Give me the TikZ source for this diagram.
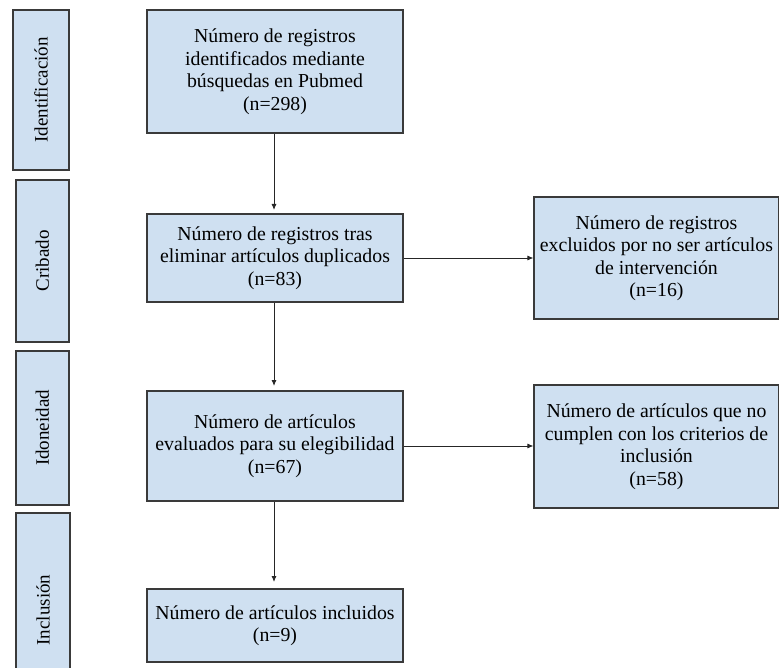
\documentclass[tikz,border=0pt]{standalone}
\usepackage{fontspec}
\setmainfont{Liberation Serif}
\usetikzlibrary{arrows.meta}
\definecolor{boxfill}{HTML}{CFE0F1}
\definecolor{boxline}{HTML}{3A3A3A}
\tikzset{
  flowbox/.style={draw=boxline, line width=1.1pt, fill=boxfill, align=center, inner sep=0pt,
    font=\rmfamily\fontsize{19.8}{22.5}\selectfont},
  phasebox/.style={draw=boxline, line width=1.1pt, fill=boxfill, inner sep=0pt},
  phaselabel/.style={rotate=90, font=\rmfamily\fontsize{19}{21}\selectfont},
  link/.style={draw=black!85, line width=0.9pt, -{Latex[length=6pt,width=5pt]}}
}
\begin{document}
\begin{tikzpicture}[x=1pt,y=-1pt]
\useasboundingbox (0,0) rectangle (779,668);
\clip (0,0) rectangle (779,668);
% phase boxes
\draw[phasebox] (13,10) rectangle (69,170);
\node[phaselabel] (pid) at (41,90) {Identificación};
\draw[phasebox] (16,180) rectangle (69,342);
\node[phaselabel] (pcr) at (42.5,261) {Cribado};
\draw[phasebox] (16,351) rectangle (69,505);
\node[phaselabel] (pido) at (42.5,428) {Idoneidad};
\draw[phasebox] (16,513) rectangle (70,680);
\node[phaselabel] (pinc) at (43,610) {Inclusión};
% main boxes
\node[flowbox, minimum width=256pt, minimum height=123pt] (b1) at (275,71.5)
  {Número de registros\\identificados mediante\\búsquedas en Pubmed\\(n=298)};
\node[flowbox, minimum width=256pt, minimum height=88pt] (b2) at (275,258)
  {Número de registros tras\\eliminar artículos duplicados\\(n=83)};
\node[flowbox, minimum width=256pt, minimum height=110pt] (b3) at (275,446)
  {Número de artículos\\evaluados para su elegibilidad\\(n=67)};
\node[flowbox, minimum width=256pt, minimum height=73pt] (b4) at (275,625.5)
  {Número de artículos incluidos\\(n=9)};
\node[flowbox, minimum width=245pt, minimum height=122pt] (e1) at (656.5,258)
  {Número de registros\\excluidos por no ser artículos\\de intervención\\(n=16)};
\node[flowbox, minimum width=245pt, minimum height=123pt] (e2) at (656.5,446.5)
  {Número de artículos que no\\cumplen con los criterios de\\inclusión\\(n=58)};
% connectors
\coordinate (t2) at (274,210);
\coordinate (t3) at (274,386);
\coordinate (t4) at (274,582);
\draw[link] (b1.south -| t2) -- (t2);
\draw[link] (b2.south -| t3) -- (t3);
\draw[link] (b3.south -| t4) -- (t4);
\draw[link] (b2.east) -- (e1.west |- b2.east);
\draw[link] (b3.east) -- (e2.west |- b3.east);
\end{tikzpicture}
\end{document}
